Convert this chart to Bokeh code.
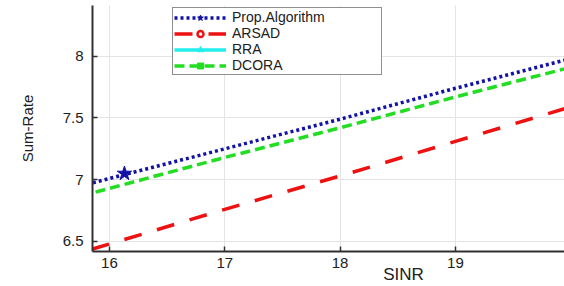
from bokeh.plotting import figure
from bokeh.models import Range1d, Legend, LegendItem, FixedTicker, LinearAxis, ColumnDataSource
from bokeh.embed import file_html
from bokeh.resources import INLINE

# ---- data ----
sinr = [15, 16, 17, 18, 19, 20]
prop_alg = [6.77, 7.01, 7.25, 7.49, 7.74, 7.98]
arsad = [6.20, 6.48, 6.76, 7.03, 7.31, 7.59]
dcora = [6.68, 6.93, 7.18, 7.42, 7.67, 7.91]
rra_x = [15]
rra_y = [6.77]
prop_marker_x = [16.13]
prop_marker_y = [7.05]
arsad_marker_x = [15]
arsad_marker_y = [6.20]
dcora_marker_x = [15]
dcora_marker_y = [6.68]
x_ticks = [16, 17, 18, 19, 20]
y_ticks = [6.5, 7, 7.5, 8]
x_title_pos = [18.55]

FONT = "Liberation Sans"

p = figure(width=564, height=286, output_backend="svg", toolbar_location=None,
           x_range=Range1d(15.853, 19.946), y_range=Range1d(6.419, 8.41),
           min_border_left=92, min_border_right=0, min_border_top=5, min_border_bottom=0)
p.outline_line_color = None
p.background_fill_color = "white"

blue = "#1212a8"
red = "#ee1111"
green = "#22dd22"
cyan = "#22eeee"

r_prop = p.line(sinr, prop_alg, line_color=blue, line_width=3.5, line_dash="3 3")
m_prop = p.scatter(prop_marker_x, prop_marker_y, marker="star", size=15,
                   fill_color=blue, line_color=blue)
r_arsad = p.line(sinr, arsad, line_color=red, line_width=3.5, line_dash="18 16")
m_arsad = p.scatter(arsad_marker_x, arsad_marker_y, marker="circle", size=8, fill_color="white",
                    line_color=red, line_width=2.5)
rra_src = ColumnDataSource(data=dict(x=rra_x, y=rra_y))
r_rra = p.line("x", "y", source=rra_src, line_color=cyan, line_width=3.5)
m_rra = p.scatter("x", "y", source=rra_src, marker="triangle", angle=1.5708, size=13,
                  fill_color=cyan, line_color=cyan)
r_dcora = p.line(sinr, dcora, line_color=green, line_width=3.5, line_dash="10 5")
m_dcora = p.scatter(dcora_marker_x, dcora_marker_y, marker="square", size=7,
                    fill_color=green, line_color=green)

# axes
xa = p.xaxis[0]
ya = p.yaxis[0]
for ax in (xa, ya):
    ax.axis_line_width = 2
    ax.axis_line_color = "#303030"
    ax.major_tick_in = 5
    ax.major_tick_out = 0
    ax.major_tick_line_color = "#303030"
    ax.major_tick_line_width = 1.5
    ax.minor_tick_line_color = None
    ax.major_label_text_font = FONT
    ax.major_label_text_font_size = "15px"
    ax.major_label_text_color = "#202020"

xa.ticker = FixedTicker(ticks=x_ticks)
ya.ticker = FixedTicker(ticks=y_ticks)
xa.major_label_standoff = 6
ya.major_label_standoff = 9
ya.axis_label = "Sum-Rate"
ya.axis_label_text_font = FONT
ya.axis_label_text_font_size = "15px"
ya.axis_label_text_font_style = "normal"
ya.axis_label_text_color = "#202020"
ya.axis_label_standoff = 24

# "SINR" title placed as a label of an extra bottom axis, shifted up
title_axis = LinearAxis(ticker=FixedTicker(ticks=x_title_pos),
                        major_label_overrides={x_title_pos[0]: "SINR"},
                        axis_line_color=None, major_tick_line_color=None,
                        minor_tick_line_color=None,
                        major_label_text_font=FONT, major_label_text_font_size="17px",
                        major_label_text_color="#202020", major_label_standoff=-12)
p.add_layout(title_axis, "below")

p.xgrid.ticker = FixedTicker(ticks=x_ticks)
p.ygrid.ticker = FixedTicker(ticks=y_ticks)
p.grid.grid_line_color = "#e4e4e4"
p.grid.grid_line_width = 1

legend = Legend(items=[
    LegendItem(label="Prop.Algorithm", renderers=[r_prop, m_prop]),
    LegendItem(label="ARSAD", renderers=[r_arsad, m_arsad]),
    LegendItem(label="RRA", renderers=[r_rra, m_rra]),
    LegendItem(label="DCORA", renderers=[r_dcora, m_dcora]),
], location=(80, 176))
legend.label_text_font = FONT
legend.label_text_font_size = "14px"
legend.label_text_color = "#202020"
legend.glyph_width = 52
legend.glyph_height = 15
legend.label_height = 15
legend.label_width = 148
legend.spacing = 0
legend.padding = 1
legend.margin = 0
legend.label_standoff = 6
legend.border_line_color = "#202020"
legend.border_line_width = 1.5
legend.background_fill_alpha = 1
p.add_layout(legend, "center")

open("out.html", "w").write(file_html(p, INLINE))
